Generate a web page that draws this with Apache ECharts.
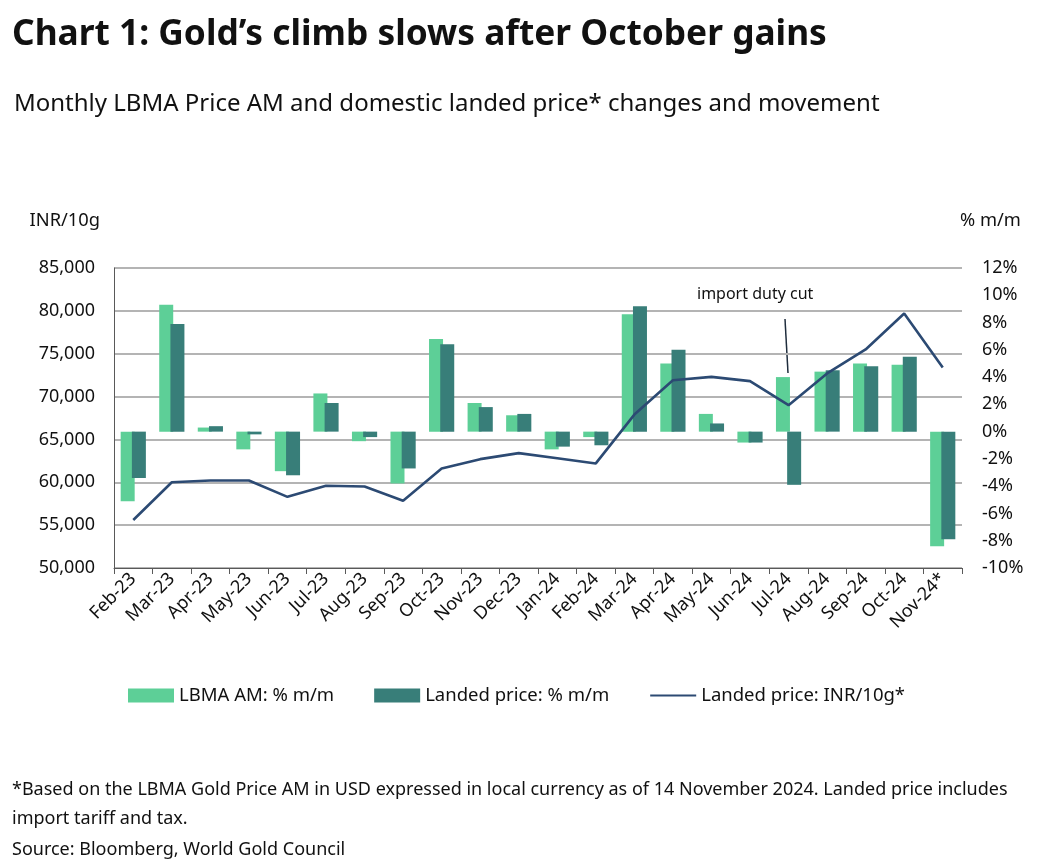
<!DOCTYPE html>
<html>
<head>
<meta charset="utf-8">
<script src="https://cdn.jsdelivr.net/npm/echarts@6/dist/echarts.min.js"></script>
<style>
  html, body { margin: 0; padding: 0; background: #fff; }
  #main { width: 1057px; height: 863px; }
</style>
</head>
<body>
<div id="main"></div>
<script>
const months = ['Feb-23', 'Mar-23', 'Apr-23', 'May-23', 'Jun-23', 'Jul-23', 'Aug-23', 'Sep-23',
  'Oct-23', 'Nov-23', 'Dec-23', 'Jan-24', 'Feb-24', 'Mar-24', 'Apr-24', 'May-24', 'Jun-24',
  'Jul-24', 'Aug-24', 'Sep-24', 'Oct-24', 'Nov-24*']
// % m/m changes (right axis)
const lbmaPct = [-5.1, 9.3, 0.3, -1.3, -2.9, 2.8, -0.7, -3.8, 6.8, 2.1, 1.2, -1.3, -0.4, 8.6, 5.0, 1.3, -0.8, 4.0, 4.4, 5.0, 4.9, -8.4]
const landedPct = [-3.4, 7.9, 0.4, -0.2, -3.2, 2.1, -0.4, -2.7, 6.4, 1.8, 1.3, -1.1, -1.0, 9.2, 6.0, 0.6, -0.8, -3.9, 4.5, 4.8, 5.5, -7.9]
// landed price INR/10g (left axis)
const landedInr = [55600, 60000, 60200, 60200, 58300, 59600, 59500, 57850, 61600, 62700, 63400, 62800, 62200, 67900, 71900, 72300, 71800, 69000, 72700, 75500, 79700, 73400]

const FONT = 'Noto Sans'
const chart = echarts.init(document.getElementById('main'))

const option = {
  backgroundColor: '#fff',
  textStyle: { fontFamily: FONT, color: '#1a1a1a' },
  title: [
    {
      text: 'Chart 1: Gold’s climb slows after October gains',
      left: 7,
      top: 9,
      textStyle: { fontFamily: FONT, fontSize: 35.3, fontWeight: 'bold', color: '#111', lineHeight: 42 }
    },
    {
      text: 'Monthly LBMA Price AM and domestic landed price* changes and movement',
      left: 9,
      top: 85,
      textStyle: { fontFamily: FONT, fontSize: 24, fontWeight: 'normal', color: '#111', lineHeight: 28 }
    }
  ],
  legend: {
    top: 681,
    left: 123,
    itemWidth: 46,
    itemHeight: 14,
    itemGap: 40,
    textStyle: { fontFamily: FONT, fontSize: 18.5, color: '#111' },
    data: [
      { name: 'LBMA AM: % m/m', icon: 'rect' },
      { name: 'Landed price: % m/m', icon: 'rect' },
      { name: 'Landed price: INR/10g*', itemStyle: { opacity: 0 } }
    ]
  },
  grid: { left: 114, right: 95, top: 268, bottom: 295 },
  xAxis: {
    type: 'category',
    data: months,
    axisLine: { onZero: false, lineStyle: { color: '#595959', width: 1 } },
    axisTick: { show: true, alignWithLabel: false, length: 6, lineStyle: { color: '#595959' } },
    axisLabel: { interval: 0, rotate: 45, margin: 8, fontFamily: FONT, fontSize: 18, color: '#111' }
  },
  yAxis: [
    {
      type: 'value',
      min: 50000,
      max: 85000,
      interval: 5000,
      name: 'INR/10g',
      nameLocation: 'end',
      nameGap: 38,
      nameTextStyle: { fontFamily: FONT, fontSize: 18.3, color: '#111', align: 'right', padding: [0, 14, 0, 0] },
      axisLine: { show: true, lineStyle: { color: '#595959', width: 1 } },
      axisTick: { show: false },
      axisLabel: {
        margin: 19,
        fontFamily: FONT,
        fontSize: 18,
        color: '#111',
        formatter: v => v.toLocaleString('en-US')
      },
      splitLine: { show: true, lineStyle: { color: '#b4b4b4', width: 2 } }
    },
    {
      type: 'value',
      min: -10,
      max: 12,
      interval: 2,
      name: '% m/m',
      nameLocation: 'end',
      nameGap: 38,
      nameTextStyle: { fontFamily: FONT, fontSize: 18.3, color: '#111', align: 'left', padding: [0, 0, 0, -2] },
      axisLine: { show: false },
      axisTick: { show: false },
      axisLabel: { margin: 20, fontFamily: FONT, fontSize: 18, color: '#111', formatter: '{value}%' },
      splitLine: { show: false }
    }
  ],
  series: [
    {
      name: 'LBMA AM: % m/m',
      type: 'bar',
      yAxisIndex: 1,
      barWidth: 14,
      barGap: '-20%',
      itemStyle: { color: '#5dcf97' },
      data: lbmaPct
    },
    {
      name: 'Landed price: % m/m',
      type: 'bar',
      yAxisIndex: 1,
      barWidth: 14,
      itemStyle: { color: '#387e79' },
      data: landedPct
    },
    {
      name: 'Landed price: INR/10g*',
      type: 'line',
      yAxisIndex: 0,
      symbol: 'none',
      lineStyle: { color: '#2c4a73', width: 2.6 },
      itemStyle: { color: '#2c4a73' },
      z: 5,
      data: landedInr
    }
  ],
  graphic: [
    {
      type: 'text',
      left: 697,
      top: 286,
      style: { text: 'import duty cut', fontFamily: FONT, fontSize: 16, fill: '#111' }
    },
    {
      type: 'line',
      shape: { x1: 785, y1: 319, x2: 788, y2: 373 },
      style: { stroke: '#1f2d3d', lineWidth: 1.5 }
    },
    {
      type: 'text',
      left: 12,
      top: 781,
      style: {
        text: '*Based on the LBMA Gold Price AM in USD expressed in local currency as of 14 November 2024. Landed price includes',
        fontFamily: FONT, fontSize: 18, fill: '#111'
      }
    },
    {
      type: 'text',
      left: 12,
      top: 810,
      style: { text: 'import tariff and tax.', fontFamily: FONT, fontSize: 18, fill: '#111' }
    },
    {
      type: 'text',
      left: 12,
      top: 841,
      style: { text: 'Source: Bloomberg, World Gold Council', fontFamily: FONT, fontSize: 18, fill: '#111' }
    }
  ]
}

chart.setOption(option)
window.addEventListener('resize', () => {
  chart.resize()
})
</script>
</body>
</html>
